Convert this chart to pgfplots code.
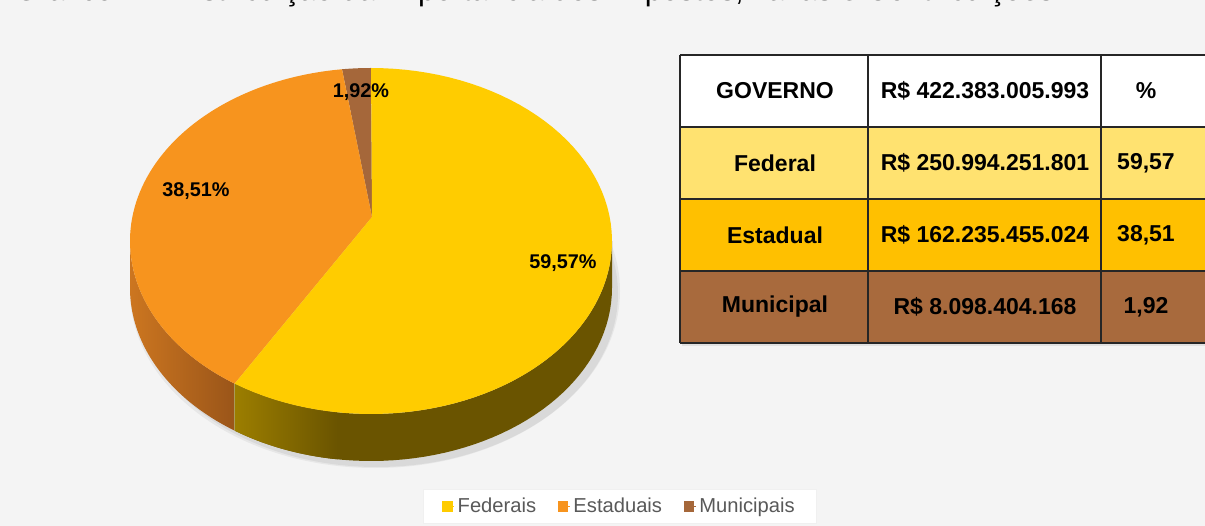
\documentclass[border=0pt]{standalone}
\usepackage{fontspec}
\setmainfont{Liberation Sans}
\usepackage{pgfplots}
\usepackage{pgfplotstable}
\pgfplotsset{compat=1.18}

\definecolor{bg}{HTML}{F4F4F4}
\definecolor{fed}{HTML}{FFCC00}
\definecolor{est}{HTML}{F7941E}
\definecolor{mun}{HTML}{A5673A}
\definecolor{fedwall}{HTML}{6A5400}
\definecolor{fedwallL}{HTML}{9C7E00}
\definecolor{estwallL}{HTML}{CC7620}
\definecolor{estwallD}{HTML}{9A5519}
\definecolor{rowfed}{HTML}{FFE270}
\definecolor{rowest}{HTML}{FFC000}
\definecolor{rowmun}{HTML}{A86A3D}
\definecolor{legtext}{HTML}{595959}

\pgfplotstableread{
name pct
Federal 59.57
Estadual 38.51
Municipal 1.92
}\shares

\def\cx{371}\def\cy{241}\def\ra{241}\def\rb{173}\def\vx{372}\def\vy{217}\def\dep{47}

\newcommand{\slice}[3]{%
 \addplot[fill=#1, draw=none, domain=0:80, samples=81, variable=\t, forget plot]
  ({ifthenelse(\t<0.5,\vx,\cx+\ra*cos(#2+(\t-1)*(#3-#2)/79))},
   {ifthenelse(\t<0.5,\vy,\cy-\rb*sin(#2+(\t-1)*(#3-#2)/79))});
}
\newcommand{\wall}[3]{%
 \addplot[#1, draw=none, domain=0:101, samples=102, variable=\t, forget plot]
  ({\cx+\ra*cos(ifthenelse(\t<50.5,#2+\t*(#3-#2)/50,#3-(\t-51)*(#3-#2)/50))},
   {\cy-\rb*sin(ifthenelse(\t<50.5,#2+\t*(#3-#2)/50,#3-(\t-51)*(#3-#2)/50))+ifthenelse(\t<50.5,0,\dep)});
}

\begin{document}
\begin{tikzpicture}
\pgfplotstablegetelem{0}{pct}\of\shares \let\pF\pgfplotsretval
\pgfplotstablegetelem{1}{pct}\of\shares \let\pE\pgfplotsretval
\pgfplotstablegetelem{2}{pct}\of\shares \let\pM\pgfplotsretval
\pgfmathsetmacro\aA{90}
\pgfmathsetmacro\aB{90+3.6*\pM}
\pgfmathsetmacro\aC{\aB+3.6*\pE}
\pgfmathsetmacro\aD{\aC+3.6*\pF}
\begin{axis}[
 width=723pt, height=315.6pt, scale only axis,
 xmin=0, xmax=1205, ymin=0, ymax=526, y dir=reverse,
 axis lines=none, clip=false,
 legend columns=3,
 legend style={at={(axis cs:620,506)}, anchor=center, draw=gray!12, fill=white,
   font=\fontsize{12.1}{13}\selectfont\color{legtext}, inner xsep=11pt, inner ysep=3pt,
   /tikz/every even column/.append style={column sep=11pt}},
 legend image code/.code={\fill[#1] (0pt,-2.9pt) rectangle (5.8pt,2.9pt); \path (0pt,0pt) -- (7pt,0pt);},
]
\fill[bg] (0,0) rectangle (1205,526);
% title (cut off at the top)
\node[anchor=base west, inner sep=0pt, font=\fontsize{18.4}{20}\selectfont] at (14,1)
 {Gráfico 1 – Distribuição da Importância dos Impostos, Taxas e Contribuições};
% soft shadow
\fill[black, opacity=0.06] (\cx+6,\cy+\dep+6) ellipse [x radius=\ra, y radius=\rb];
\fill[black, opacity=0.05] (\cx+4,\cy+\dep+3) ellipse [x radius=\ra+4, y radius=\rb+4];
% walls
\wall{fill=fedwall}{\aC}{360}
\wall{left color=fedwallL, right color=fedwall}{\aC}{262}
\wall{left color=estwallL, right color=estwallD}{180}{\aC}
% top faces
\slice{mun}{\aA}{\aB}
\slice{est}{\aB}{\aC}
\slice{fed}{\aC}{\aD}
\node[font=\bfseries\fontsize{11.9}{14}\selectfont] at (563,263) {59,57\%};
\node[font=\bfseries\fontsize{11.9}{14}\selectfont] at (196,191) {38,51\%};
\node[font=\bfseries\fontsize{11.9}{14}\selectfont] at (361,92) {1,92\%};
% table
\fill[black, opacity=0.08] (682,57) rectangle (1210,346);
\fill[white] (680,55) rectangle (1210,127);
\fill[rowfed] (680,127) rectangle (1210,199);
\fill[rowest] (680,199) rectangle (1210,271);
\fill[rowmun] (680,271) rectangle (1210,343);
\draw[black!85, line width=0.8pt] (680,55) -- (1210,55) (680,127) -- (1210,127)
  (680,199) -- (1210,199) (680,271) -- (1210,271) (680,343) -- (1210,343)
  (680,55) -- (680,343) (868,55) -- (868,343) (1101,55) -- (1101,343);
\begin{scope}[every node/.style={font=\bfseries\fontsize{13.8}{16}\selectfont}]
\node at (775,91) {GOVERNO};
\node at (985,91) {R\$ 422.383.005.993};
\node at (1146,91) {\%};
\node at (775,163) {Federal};
\node at (985,163) {R\$ 250.994.251.801};
\node at (1146,163) {59,57};
\node at (775,235) {Estadual};
\node at (985,235) {R\$ 162.235.455.024};
\node at (1146,235) {38,51};
\node at (775,307) {Municipal};
\node at (985,307) {R\$ 8.098.404.168};
\node at (1146,307) {1,92};
\end{scope}
\addlegendimage{fed}\addlegendentry{Federais}
\addlegendimage{est}\addlegendentry{Estaduais}
\addlegendimage{mun}\addlegendentry{Municipais}
\end{axis}
\pgfresetboundingbox
\path[use as bounding box] (current axis.south west) rectangle (current axis.north east);
\end{tikzpicture}
\end{document}
